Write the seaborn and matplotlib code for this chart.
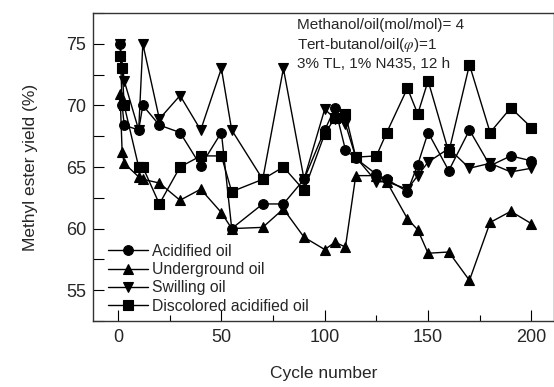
import pandas as pd
import numpy as np
import matplotlib
matplotlib.use('Agg')
import matplotlib.pyplot as plt
from matplotlib.ticker import MultipleLocator
import seaborn as sns

sns.set_style("ticks")
plt.rcParams['font.family'] = ['Liberation Sans', 'DejaVu Sans']
plt.rcParams['mathtext.fontset'] = 'stix'

# data
acid_x = [1, 2, 3, 10, 12, 20, 30, 40, 50, 55, 70, 80, 90, 100, 105, 110, 115, 125, 130, 140, 145, 150, 160, 170, 180, 190, 200]
acid_y = [75.0, 70.0, 68.4, 68.0, 70.0, 68.4, 67.8, 65.1, 67.8, 60.0, 62.0, 62.0, 64.0, 68.0, 69.8, 66.4, 65.7, 64.4, 64.0, 63.0, 65.2, 67.8, 64.7, 68.0, 65.1, 65.9, 65.5]

under_x = [1, 2, 3, 10, 12, 20, 30, 40, 50, 55, 70, 80, 90, 100, 105, 110, 115, 125, 130, 140, 145, 150, 160, 170, 180, 190, 200]
under_y = [70.9, 66.2, 65.3, 64.2, 64.0, 63.7, 62.3, 63.2, 61.3, 60.0, 60.1, 61.6, 59.3, 58.3, 58.9, 58.5, 64.3, 64.3, 63.8, 60.8, 59.9, 58.0, 58.1, 55.8, 60.5, 61.4, 60.4]

swill_x = [1, 3, 10, 12, 20, 30, 40, 50, 55, 70, 80, 90, 100, 105, 110, 115, 125, 130, 140, 145, 150, 160, 170, 180, 190, 200]
swill_y = [75.0, 72.0, 68.0, 75.0, 68.9, 70.8, 68.0, 73.0, 68.0, 64.0, 73.0, 64.0, 69.7, 68.9, 68.5, 65.8, 63.8, 63.8, 63.2, 64.3, 65.4, 66.5, 64.9, 65.3, 64.6, 64.9]

disc_x = [1, 2, 3, 10, 12, 20, 30, 40, 50, 55, 70, 80, 90, 100, 105, 110, 115, 125, 130, 140, 145, 150, 160, 170, 180, 190, 200]
disc_y = [74.0, 73.0, 70.0, 65.0, 65.0, 62.0, 65.0, 65.9, 65.9, 63.0, 64.0, 65.0, 63.1, 67.7, 69.0, 69.3, 65.8, 65.9, 67.8, 71.4, 69.3, 72.0, 66.2, 73.3, 67.8, 69.8, 68.2]

series_names = ['Acidified oil', 'Underground oil', 'Swilling oil', 'Discolored acidified oil']

frames = []
for name, xs, ys in zip(series_names,
                        [acid_x, under_x, swill_x, disc_x],
                        [acid_y, under_y, swill_y, disc_y]):
    frames.append(pd.DataFrame({'cycle': xs, 'yield': ys, 'oil': name}))
df = pd.concat(frames, ignore_index=True)

fig = plt.figure(figsize=(5.54, 3.87), dpi=100)
ax = fig.add_axes([93/554, 1 - 321/387, 461/554, 308/387])

sns.lineplot(data=df, x='cycle', y='yield', hue='oil', style='oil',
             hue_order=series_names, style_order=series_names,
             palette=['black'] * 4,
             markers={'Acidified oil': 'o', 'Underground oil': '^',
                      'Swilling oil': 'v', 'Discolored acidified oil': 's'},
             dashes=False, markersize=7, linewidth=1,
             markeredgecolor='black', markeredgewidth=0.8,
             estimator=None, ax=ax)

ax.set_xlim(-12.1, 210.9)
ax.set_ylim(52.5, 77.5)
ax.xaxis.set_major_locator(MultipleLocator(50))
ax.xaxis.set_minor_locator(MultipleLocator(25))
ax.yaxis.set_major_locator(MultipleLocator(5))
ax.yaxis.set_minor_locator(MultipleLocator(2.5))
ax.tick_params(which='both', direction='in', labelsize=13, color='black')
ax.tick_params(which='major', length=8, width=0.8)
ax.tick_params(axis='x', which='major', pad=6)
ax.tick_params(axis='y', which='major', pad=5)
ax.tick_params(axis='x', which='minor', length=4, width=0.8)
ax.tick_params(axis='y', which='minor', length=8, width=0.8)
for sp in ax.spines.values():
    sp.set_linewidth(1)
    sp.set_color('#333333')

ax.set_xlabel('Cycle number', fontsize=12.5, labelpad=14)
ax.set_ylabel('Methyl ester yield (%)', fontsize=12.5, labelpad=20)

ax.text(0.4425, 0.983,
        'Methanol/oil(mol/mol)= 4\nTert-butanol/oil($\\varphi$)=1\n3% TL, 1% N435, 12 h',
        transform=ax.transAxes, ha='left', va='top', fontsize=11, linespacing=1.27)

ax.legend(loc='lower left', bbox_to_anchor=(0.018, 0.0), frameon=False,
          fontsize=11.3, handlelength=2.5, handletextpad=0.3,
          labelspacing=0.22, borderaxespad=0.05)

plt.savefig('out.png', dpi=100)
